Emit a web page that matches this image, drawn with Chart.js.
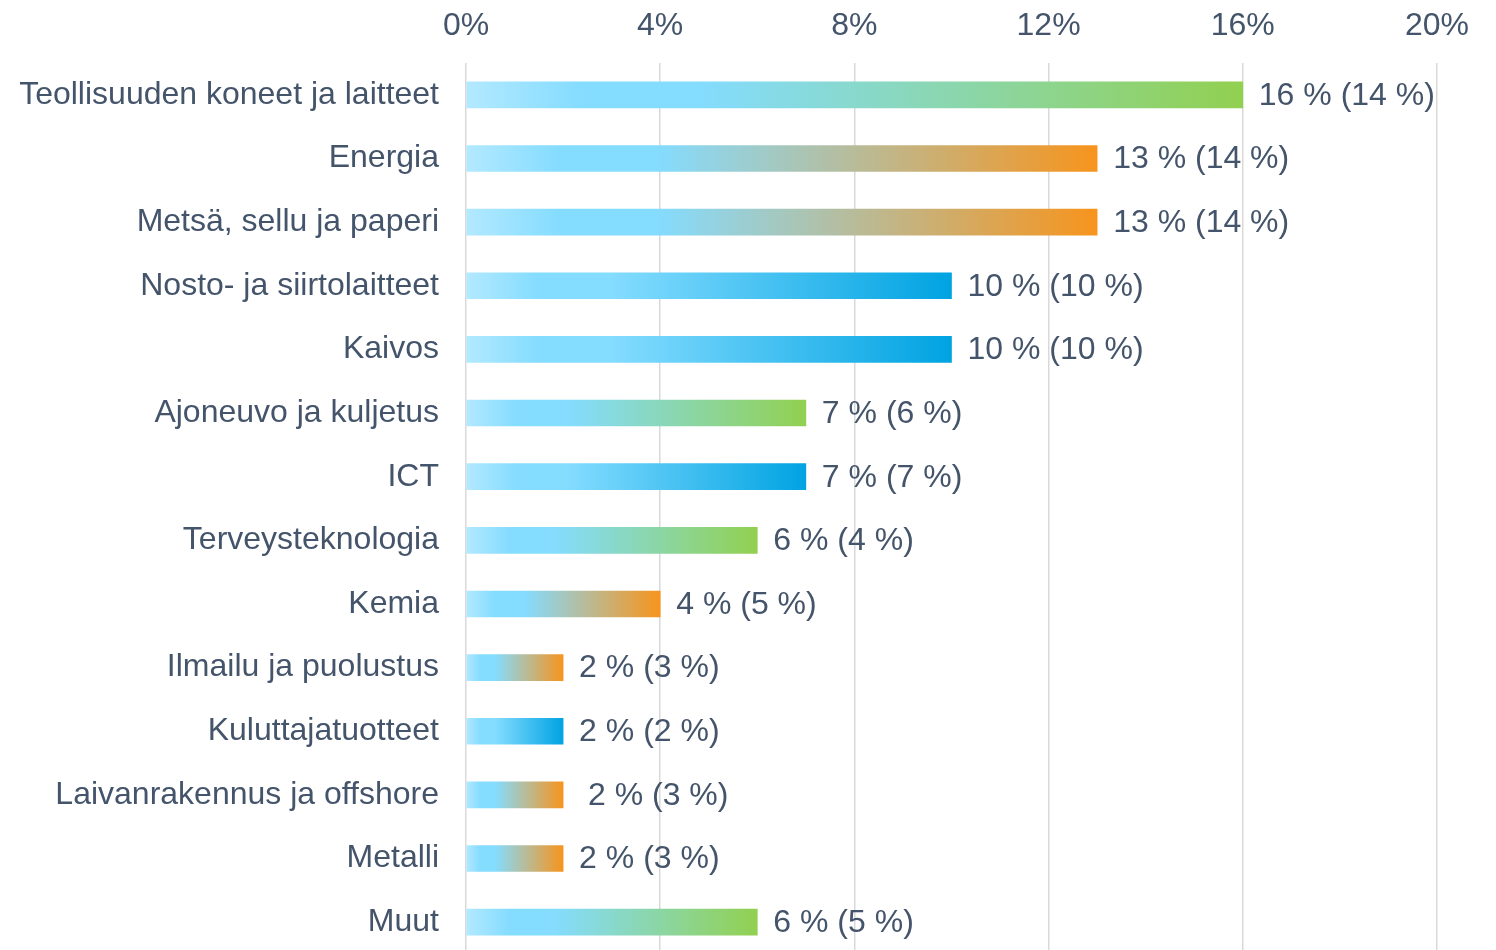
<!DOCTYPE html>
<html>
<head>
<meta charset="utf-8">
<script src="https://cdn.jsdelivr.net/npm/chart.js@4.4.1/dist/chart.umd.min.js"></script>
<style>
  html, body { margin: 0; padding: 0; background: #fff; overflow: hidden; }
  canvas { display: block; }
</style>
</head>
<body>
<canvas id="c" width="1496" height="954"></canvas>
<script>
// ---- data ----
const categories = [
  'Teollisuuden koneet ja laitteet', 'Energia', 'Metsä, sellu ja paperi',
  'Nosto- ja siirtolaitteet', 'Kaivos', 'Ajoneuvo ja kuljetus', 'ICT',
  'Terveysteknologia', 'Kemia', 'Ilmailu ja puolustus', 'Kuluttajatuotteet',
  'Laivanrakennus ja offshore', 'Metalli', 'Muut'
];
const shareValues = [16, 13, 13, 10, 10, 7, 7, 6, 4, 2, 2, 2, 2, 6];
const valueLabels = [
  '16 % (14 %)', '13 % (14 %)', '13 % (14 %)', '10 % (10 %)', '10 % (10 %)',
  '7 % (6 %)', '7 % (7 %)', '6 % (4 %)', '4 % (5 %)', '2 % (3 %)',
  '2 % (2 %)', ' 2 % (3 %)', '2 % (3 %)', '6 % (5 %)'
];
const xTicks = [0, 4, 8, 12, 16, 20];

// ---- style ----
const GREEN = '#92D050', ORANGE = '#F7941D', BLUE = '#00A3E2';
const barEndColors = [GREEN, ORANGE, ORANGE, BLUE, BLUE, GREEN, BLUE, GREEN, ORANGE, ORANGE, BLUE, ORANGE, ORANGE, GREEN];
const TEXT = '#44546A';
const FONT = "'Liberation Sans', Arial, sans-serif";
const FSIZE = 32;

function barGradient(ctx) {
  const chart = ctx.chart;
  const end = barEndColors[ctx.dataIndex];
  if (!chart.chartArea || ctx.parsed === undefined) return end;
  const xs = chart.scales.x;
  const x0 = xs.getPixelForValue(0);
  const x1 = xs.getPixelForValue(ctx.parsed.x);
  if (!isFinite(x0) || !isFinite(x1) || x1 <= x0) return end;
  const g = chart.ctx.createLinearGradient(x0, 0, x1, 0);
  g.addColorStop(0, '#B3E9FF');
  g.addColorStop(0.15, '#84DCFF');
  g.addColorStop(0.3, '#84DCFF');
  g.addColorStop(1, end);
  return g;
}

const valueLabelPlugin = {
  id: 'valueLabels',
  afterDatasetsDraw(chart) {
    const c = chart.ctx;
    const meta = chart.getDatasetMeta(0);
    c.save();
    c.font = FSIZE + 'px ' + FONT;
    c.fillStyle = TEXT;
    c.textAlign = 'left';
    c.textBaseline = 'middle';
    meta.data.forEach((bar, i) => {
      c.fillText(valueLabels[i], bar.x + 16, bar.y + 1);
    });
    c.restore();
  }
};

function zeroPad(scale) {
  scale.paddingLeft = 0; scale.paddingRight = 0;
  scale.paddingTop = 0; scale.paddingBottom = 0;
}

new Chart(document.getElementById('c'), {
  type: 'bar',
  data: {
    labels: categories,
    datasets: [{
      data: shareValues,
      backgroundColor: barGradient,
      borderWidth: 0,
      barThickness: 26
    }]
  },
  plugins: [valueLabelPlugin],
  options: {
    indexAxis: 'y',
    responsive: false,
    animation: false,
    layout: { padding: { left: 0, right: 59, top: 0, bottom: 0 } },
    plugins: { legend: { display: false }, tooltip: { enabled: false } },
    scales: {
      x: {
        position: 'top',
        min: 0, max: 20,
        afterBuildTicks(scale) { scale.ticks = xTicks.map(v => ({ value: v })); },
        afterFit(scale) { scale.height = 63; zeroPad(scale); },
        ticks: {
          color: TEXT,
          font: { family: FONT, size: FSIZE },
          padding: 18,
          callback: v => v + '%'
        },
        grid: { color: '#D9D9D9', lineWidth: 1.5, drawTicks: false },
        border: { display: false }
      },
      y: {
        afterFit(scale) { scale.width = 466; zeroPad(scale); },
        ticks: {
          color: TEXT,
          font: { family: FONT, size: FSIZE },
          padding: 27
        },
        grid: { display: false, drawTicks: false },
        border: { display: false }
      }
    }
  }
});
</script>
</body>
</html>
